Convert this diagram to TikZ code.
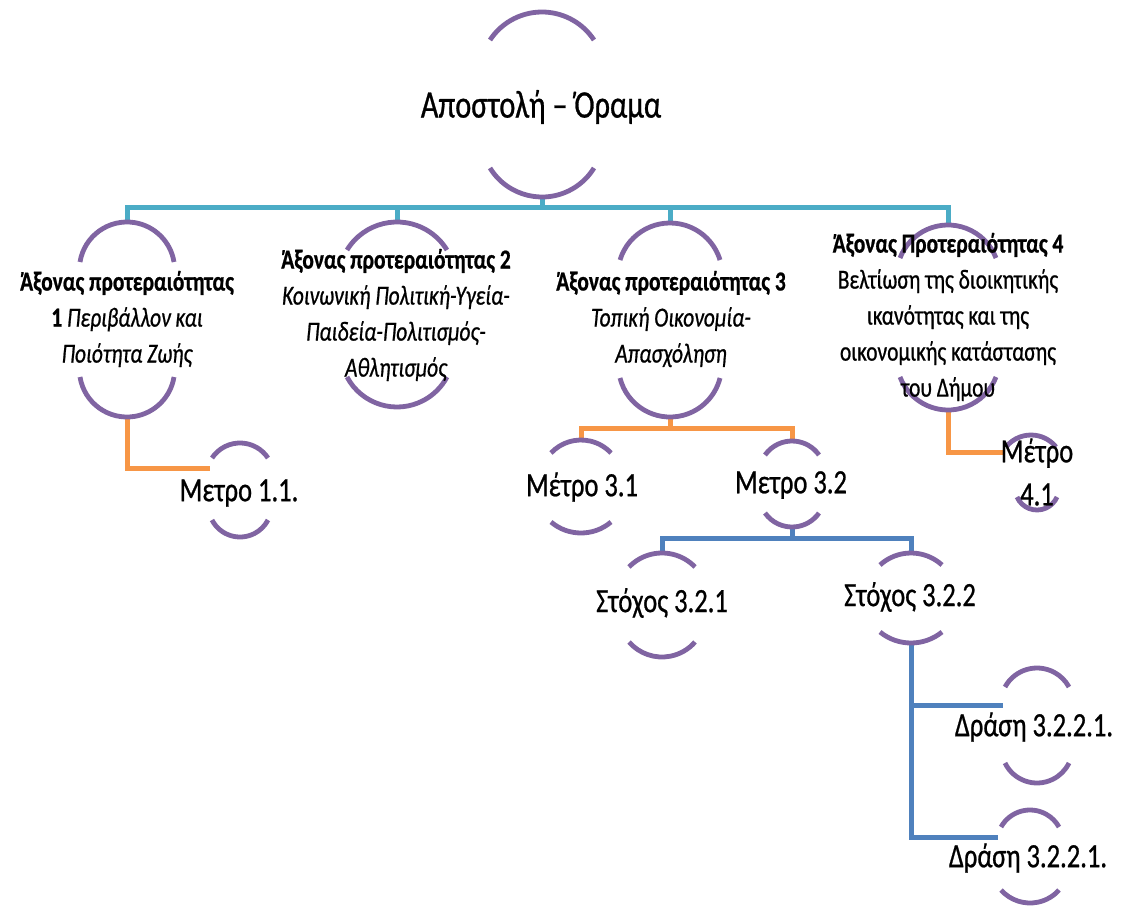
\documentclass[tikz,border=0pt]{standalone}
\usepackage{fontspec}
\setmainfont[FakeStretch=0.78,FakeBold=0.7]{Carlito}
\definecolor{arcpurple}{HTML}{8064A2}
\definecolor{linkteal}{HTML}{4BACC6}
\definecolor{linkorange}{HTML}{F79646}
\definecolor{linkblue}{HTML}{4F81BD}
\tikzset{
  arcline/.style={draw=arcpurple, line width=4.8pt},
  tealline/.style={draw=linkteal, line width=5pt},
  orangeline/.style={draw=linkorange, line width=5pt},
  blueline/.style={draw=linkblue, line width=5pt},
  roottext/.style={inner sep=0pt, font=\fontsize{39}{46}\selectfont},
  axistext/.style={align=center, inner sep=0pt, font=\fontsize{27.5}{36}\selectfont},
  leaftext/.style={align=center, inner sep=0pt, font=\fontsize{34}{43}\selectfont},
}
% cx, yend, half chord, sagitta
\newcommand\myTopArc[4]{%
  \pgfmathsetmacro\myR{(#3*#3+#4*#4)/(2*#4)}%
  \pgfmathsetmacro\myA{asin(#3/\myR)}%
  \draw[arcline] (#1-#3,#2) arc[start angle=270-\myA, end angle=270+\myA, radius=\myR];}
\newcommand\myBotArc[4]{%
  \pgfmathsetmacro\myR{(#3*#3+#4*#4)/(2*#4)}%
  \pgfmathsetmacro\myA{asin(#3/\myR)}%
  \draw[arcline] (#1-#3,#2) arc[start angle=90+\myA, end angle=90-\myA, radius=\myR];}
\begin{document}
\begin{tikzpicture}[x=1pt,y=-1pt]
\path[use as bounding box, fill=white] (0,0) rectangle (1123,909);

% connection points (tops and bottoms of arcs)
\coordinate (root-b) at (542,197);
\coordinate (a1-t) at (127,222); \coordinate (a1-b) at (127,417);
\coordinate (a2-t) at (397,222); \coordinate (a2-b) at (397,407);
\coordinate (a3-t) at (670,223); \coordinate (a3-b) at (670,417);
\coordinate (a4-t) at (948,225); \coordinate (a4-b) at (948,410);
\coordinate (m11-l) at (210,468);
\coordinate (m31-t) at (581,440);
\coordinate (m32-t) at (792,441); \coordinate (m32-b) at (792,527);
\coordinate (m41-l) at (1005,452);
\coordinate (s321-t) at (662,553);
\coordinate (s322-t) at (911,553); \coordinate (s322-b) at (911,643);
\coordinate (d1-l) at (1003,705);
\coordinate (d2-l) at (998,837);
\coordinate (bus0) at (542,208);
\coordinate (bus3) at (670,428);
\coordinate (bus32) at (792,538);

% connectors
\draw[tealline] (root-b) -- (bus0);
\draw[tealline] (bus0) -| (a1-t);
\draw[tealline] (bus0) -| (a2-t);
\draw[tealline] (bus0) -| (a3-t);
\draw[tealline] (bus0) -| (a4-t);
\draw[orangeline] (a1-b) |- (m11-l);
\draw[orangeline] (a3-b) -- (bus3);
\draw[orangeline] (bus3) -| (m31-t);
\draw[orangeline] (bus3) -| (m32-t);
\draw[orangeline] (a4-b) |- (m41-l);
\draw[blueline] (m32-b) -- (bus32);
\draw[blueline] (bus32) -| (s321-t);
\draw[blueline] (bus32) -| (s322-t);
\draw[blueline] (s322-b) |- (d1-l);
\draw[blueline] (s322-b) |- (d2-l);

% arcs
\myTopArc{542}{40}{52}{28}   \myBotArc{542}{168}{52}{29}
\myTopArc{127}{262}{47}{40}  \myBotArc{127}{377}{47}{40}
\myTopArc{397}{250}{50}{28}  \myBotArc{397}{377}{50}{30}
\myTopArc{670}{260}{50}{37}  \myBotArc{670}{378}{50}{39}
\myTopArc{948}{258}{48}{33}  \myBotArc{948}{377}{48}{33}
\myTopArc{240}{458}{28}{15}  \myBotArc{240}{520}{28}{17}
\myTopArc{581}{453}{30}{13}  \myBotArc{581}{522}{30}{11}
\myTopArc{792}{455}{27}{14}  \myBotArc{792}{513}{27}{14}
\myTopArc{1031}{447}{25}{12} \myBotArc{1037}{497}{20}{13}
\myTopArc{662}{567}{33}{14}  \myBotArc{662}{642}{33}{15}
\myTopArc{911}{565}{31}{12}  \myBotArc{911}{632}{31}{11}
\myTopArc{1037}{687}{32}{19} \myBotArc{1037}{763}{32}{20}
\myTopArc{1030}{827}{29}{17} \myBotArc{1030}{890}{29}{13}

% texts
\node[roottext] (root) at (541,107) {Αποστολή – Όραμα};
\node[axistext] (a1) at (127,319) {\bfseries Άξονας προτεραιότητας\\{\bfseries 1} \itshape Περιβάλλον και\\\itshape Ποιότητα Ζωής};
\node[axistext] (a2) at (396,315) {\bfseries Άξονας προτεραιότητας 2\\\itshape Κοινωνική Πολιτική-Υγεία-\\\itshape Παιδεία-Πολιτισμός-\\\itshape Αθλητισμός};
\node[axistext] (a3) at (671,319) {\bfseries Άξονας προτεραιότητας 3\\\itshape Τοπική Οικονομία-\\\itshape Απασχόληση};
\node[axistext] (a4) at (948,317) {\bfseries Άξονας Προτεραιότητας 4\\Βελτίωση της διοικητικής\\ικανότητας και της\\οικονομικής κατάστασης\\του Δήμου};
\node[leaftext] (m11) at (239,493) {Μετρο 1.1.};
\node[leaftext] (m31) at (582,487) {Μέτρο 3.1};
\node[leaftext] (m32) at (791,485) {Μετρο 3.2};
\node[leaftext] (m41) at (1037,472) {Μέτρο\\4.1};
\node[leaftext] (s321) at (662,603) {Στόχος 3.2.1};
\node[leaftext] (s322) at (910,597) {Στόχος 3.2.2};
\node[leaftext] (d1) at (1034,727) {Δράση 3.2.2.1.};
\node[leaftext] (d2) at (1028,858) {Δράση 3.2.2.1.};
\end{tikzpicture}
\end{document}
